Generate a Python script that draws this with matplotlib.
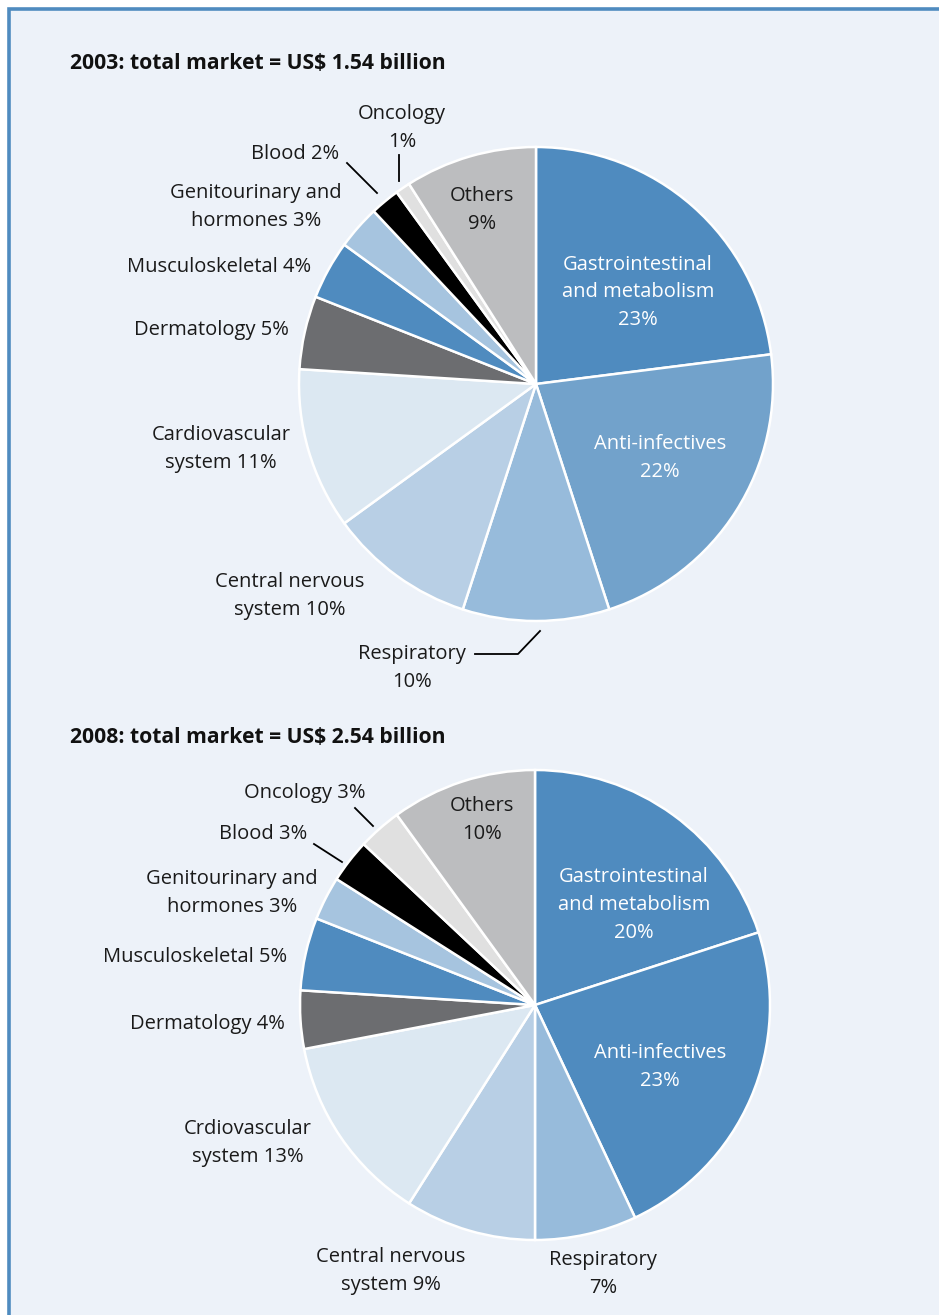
import matplotlib
matplotlib.use('Agg')
import matplotlib.pyplot as plt
from matplotlib.patches import Rectangle

plt.rcParams['font.family'] = ['Open Sans', 'DejaVu Sans']

# therapy areas, clockwise from 12 o'clock
areas = ['Gastrointestinal and metabolism', 'Anti-infectives', 'Respiratory',
         'Central nervous system', 'Cardiovascular system', 'Dermatology',
         'Musculoskeletal', 'Genitourinary and hormones', 'Blood', 'Oncology',
         'Others']
share_2003 = [23, 22, 10, 10, 11, 5, 4, 3, 2, 1, 9]
share_2008 = [20, 23, 7, 9, 13, 4, 5, 3, 3, 3, 10]

colors_2003 = ['#4f8bbf', '#72a2cb', '#97bbdb', '#b8cfe5', '#dce8f2', '#6c6d70',
               '#4f8bbf', '#a6c4df', '#000000', '#e0e0e0', '#bcbdbf']
colors_2008 = ['#4f8bbf', '#4f8bbf', '#97bbdb', '#b8cfe5', '#dce8f2', '#6c6d70',
               '#4f8bbf', '#a6c4df', '#000000', '#e0e0e0', '#bcbdbf']

title_2003 = '2003: total market = US$ 1.54 billion'
title_2008 = '2008: total market = US$ 2.54 billion'

W, H = 939, 1315
BG = '#edf2f9'
FS = 14.5


def Y(y):
    # pixel row (from top) -> data y
    return H - y


fig = plt.figure(figsize=(W / 100, H / 100), dpi=100)
ax = fig.add_axes([0, 0, 1, 1])

# panel background with blue frame on top and left
ax.add_patch(Rectangle((9, -5), W + 10, Y(9) + 5, facecolor=BG,
                       edgecolor='#4f8bbf', linewidth=2.6, zorder=0))


def draw_pie(values, colors, center, radius):
    ax.pie(values, colors=colors, startangle=90, counterclock=False,
           center=(center[0], Y(center[1])), radius=radius, frame=True,
           wedgeprops=dict(edgecolor='white', linewidth=1.8))


def label(x, y, s, ha='center', color='#1a1a1a'):
    ax.text(x, Y(y + 3), s, ha=ha, va='center', fontsize=FS, color=color,
            linespacing=1.5, multialignment='center')


def leader(xs, ys):
    ax.plot(xs, [Y(v) for v in ys], color='black', linewidth=1.3)


# ---- 2003 ----
ax.text(70, Y(63), title_2003, ha='left', va='center', fontsize=15.2,
        fontweight='bold', color='#111111')
draw_pie(share_2003, colors_2003, (536, 384), 237)
label(638, 289, 'Gastrointestinal\nand metabolism\n23%', color='white')
label(660, 455, 'Anti-infectives\n22%', color='white')
label(482, 207, 'Others\n9%')
label(402, 125, 'Oncology\n1%')
label(339, 151, 'Blood 2%', ha='right')
label(256, 204, 'Genitourinary and\nhormones 3%')
label(311, 264, 'Musculoskeletal 4%', ha='right')
label(289, 327, 'Dermatology 5%', ha='right')
label(221, 446, 'Cardiovascular\nsystem 11%')
label(290, 593, 'Central nervous\nsystem 10%')
label(412, 665, 'Respiratory\n10%')
leader([399, 399], [155, 181])
leader([347, 377], [163, 193])
leader([475, 518, 540], [654, 654, 631])

# ---- 2008 ----
ax.text(70, Y(737), title_2008, ha='left', va='center', fontsize=15.2,
        fontweight='bold', color='#111111')
draw_pie(share_2008, colors_2008, (535, 1005), 235)
label(634, 902, 'Gastrointestinal\nand metabolism\n20%', color='white')
label(660, 1064, 'Anti-infectives\n23%', color='white')
label(482, 817, 'Others\n10%')
label(366, 790, 'Oncology 3%', ha='right')
label(307, 831, 'Blood 3%', ha='right')
label(232, 890, 'Genitourinary and\nhormones 3%')
label(287, 954, 'Musculoskeletal 5%', ha='right')
label(285, 1021, 'Dermatology 4%', ha='right')
label(248, 1140, 'Crdiovascular\nsystem 13%')
label(391, 1268, 'Central nervous\nsystem 9%')
label(603, 1271, 'Respiratory\n7%')
leader([355, 373], [808, 826])
leader([314, 342], [844, 862])

ax.set_xlim(0, W)
ax.set_ylim(0, H)
ax.set_aspect('equal')
ax.axis('off')

fig.savefig('out.png', dpi=100, facecolor='white')
